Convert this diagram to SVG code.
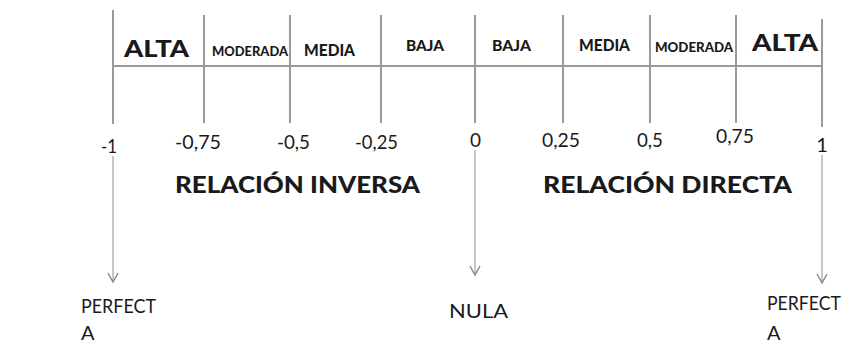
<svg xmlns="http://www.w3.org/2000/svg" width="861" height="345" viewBox="0 0 861 345">
<defs>
<style>
.frame{stroke:#9a9a9a;stroke-width:2;fill:none}
.arr{stroke:#b4b4b4;stroke-width:1.5;fill:none}
.head{stroke:#8a8a8a;stroke-width:1.5;fill:none}
.cat{font-family:Lato,"Liberation Sans",sans-serif;font-weight:900;fill:#1a1a1a}
.num{font-family:Lato,"Liberation Sans",sans-serif;font-size:20px;fill:#1a1a1a}
.rel{font-family:Lato,"Liberation Sans",sans-serif;font-weight:900;font-size:23px;fill:#1a1a1a}
.lab{font-family:Lato,"Liberation Sans",sans-serif;font-size:20px;fill:#1a1a1a}
</style>
</defs>
<rect width="861" height="345" fill="#ffffff"/>
<g id="scale">
<line class="frame" x1="113" y1="10" x2="113" y2="124"/>
<line class="frame" x1="204" y1="15" x2="204" y2="123"/>
<line class="frame" x1="290" y1="15" x2="290" y2="123"/>
<line class="frame" x1="381" y1="15" x2="381" y2="123"/>
<line class="frame" x1="475" y1="15" x2="475" y2="123"/>
<line class="frame" x1="563" y1="15" x2="563" y2="123"/>
<line class="frame" x1="650" y1="15" x2="650" y2="123"/>
<line class="frame" x1="736" y1="15" x2="736" y2="123"/>
<line class="frame" x1="822" y1="19" x2="822" y2="127"/>
<line class="frame" x1="113" y1="66" x2="822" y2="66"/>
</g>
<g id="categories">
<text class="cat" x="124" y="57" font-size="23" textLength="65" lengthAdjust="spacingAndGlyphs">ALTA</text>
<text class="cat" x="212" y="56" font-size="13" textLength="76" lengthAdjust="spacingAndGlyphs">MODERADA</text>
<text class="cat" x="304" y="56" font-size="16" textLength="51" lengthAdjust="spacingAndGlyphs">MEDIA</text>
<text class="cat" x="406" y="51" font-size="15" textLength="38" lengthAdjust="spacingAndGlyphs">BAJA</text>
<text class="cat" x="492" y="51" font-size="15" textLength="39" lengthAdjust="spacingAndGlyphs">BAJA</text>
<text class="cat" x="579" y="51" font-size="16" textLength="51" lengthAdjust="spacingAndGlyphs">MEDIA</text>
<text class="cat" x="655" y="52" font-size="13" textLength="78" lengthAdjust="spacingAndGlyphs">MODERADA</text>
<text class="cat" x="752" y="51" font-size="23" textLength="66" lengthAdjust="spacingAndGlyphs">ALTA</text>
</g>
<g id="ticks">
<text class="num" x="101" y="153" font-size="22" textLength="16" lengthAdjust="spacingAndGlyphs">-1</text>
<text class="num" x="175" y="149" textLength="46" lengthAdjust="spacingAndGlyphs">-0,75</text>
<text class="num" x="277" y="149" textLength="33" lengthAdjust="spacingAndGlyphs">-0,5</text>
<text class="num" x="355" y="149" textLength="43" lengthAdjust="spacingAndGlyphs">-0,25</text>
<text class="num" x="470" y="147" textLength="11" lengthAdjust="spacingAndGlyphs">0</text>
<text class="num" x="542" y="147" textLength="38" lengthAdjust="spacingAndGlyphs">0,25</text>
<text class="num" x="637" y="147" textLength="26" lengthAdjust="spacingAndGlyphs">0,5</text>
<text class="num" x="716" y="143" textLength="38" lengthAdjust="spacingAndGlyphs">0,75</text>
<text class="num" x="822" y="152" font-size="22" text-anchor="middle">1</text>
</g>
<g id="relations">
<text class="rel" x="175" y="193" textLength="245" lengthAdjust="spacingAndGlyphs">RELACIÓN  INVERSA</text>
<text class="rel" x="543" y="193" textLength="249" lengthAdjust="spacingAndGlyphs">RELACIÓN  DIRECTA</text>
</g>
<g id="connectors">
<line class="arr" x1="113" y1="156" x2="113" y2="281"/>
<polyline class="head" points="108,273 113,282 118,273"/>
<line class="arr" x1="475" y1="150" x2="475" y2="274"/>
<polyline class="head" points="470,266 475,275 480,266"/>
<line class="arr" x1="822" y1="155" x2="822" y2="282"/>
<polyline class="head" points="817,274 822,283 827,274"/>
</g>
<g id="outcomes">
<text class="lab" x="81" y="313" textLength="75" lengthAdjust="spacingAndGlyphs">PERFECT</text>
<text class="lab" x="81" y="340">A</text>
<text class="lab" x="449" y="318" textLength="59" lengthAdjust="spacingAndGlyphs">NULA</text>
<text class="lab" x="767" y="310" textLength="74" lengthAdjust="spacingAndGlyphs">PERFECT</text>
<text class="lab" x="767" y="340">A</text>
</g>
</svg>
